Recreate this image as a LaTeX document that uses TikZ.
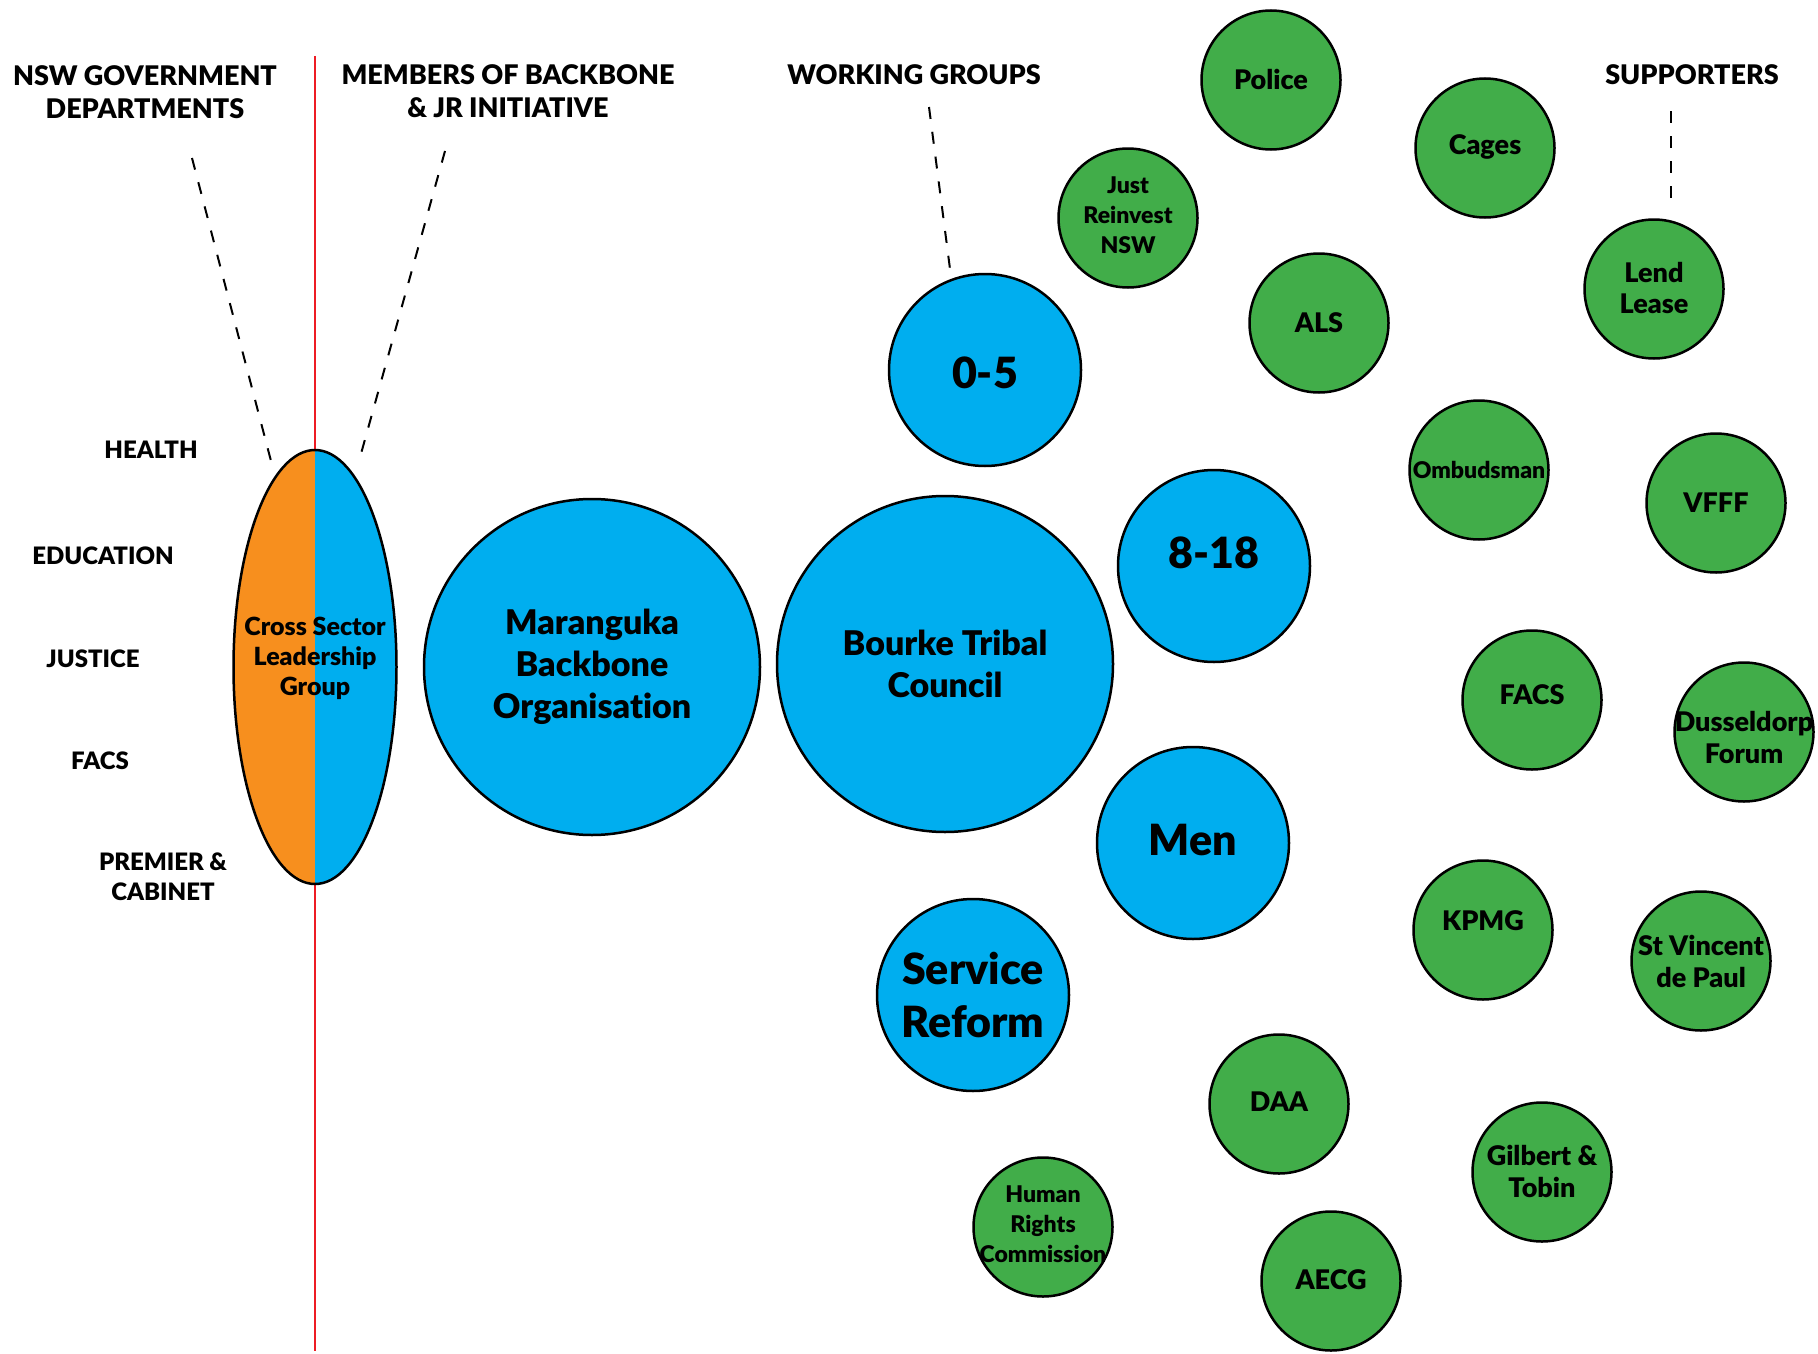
\documentclass[tikz,border=0pt]{standalone}
\usepackage{fontspec}
\setmainfont{Lato}[BoldFont={Lato Black}, Ligatures=NoCommon]
\usetikzlibrary{shapes.geometric}
\definecolor{mblue}{RGB}{0,174,239}
\definecolor{morange}{RGB}{247,143,30}
\definecolor{mgreen}{RGB}{65,173,73}
\definecolor{mred}{RGB}{237,28,36}
\tikzset{
  wg/.style={circle, draw, line width=2.5pt, fill=mblue, minimum size=192pt, inner sep=0pt},
  big/.style={wg, minimum size=336pt},
  sup/.style={circle, draw, line width=2.5pt, fill=mgreen, minimum size=139pt, inner sep=0pt},
  hdr/.style={font=\fontsize{27}{33}\selectfont\bfseries, align=center},
  dept/.style={font=\fontsize{24}{30}\selectfont\bfseries, align=center},
  bt/.style={font=\fontsize{34}{42}\selectfont\bfseries, align=center},
  wt/.style={font=\fontsize{43}{53}\selectfont\bfseries, align=center},
  st/.style={font=\fontsize{27}{32}\selectfont\bfseries, align=center},
  sts/.style={font=\fontsize{23}{30}\selectfont\bfseries, align=center},
  cst/.style={font=\fontsize{25}{30}\selectfont\bfseries, align=center},
  lead/.style={dash pattern=on 12pt off 13pt, line width=2pt},
}
\begin{document}
\begin{tikzpicture}[x=1pt,y=-1pt]
\useasboundingbox[fill=white] (0,0) rectangle (1818,1354);
% red divider
\coordinate (ltop) at (315,56);
\coordinate (lbot) at (315,1351);
\draw[mred, line width=2pt] (ltop) -- (lbot);
% cross sector leadership group
\node[ellipse, draw, line width=2.5pt, minimum width=163pt, minimum height=434pt, inner sep=0pt,
  path picture={
    \fill[morange] (path picture bounding box.south west) rectangle (path picture bounding box.north);
    \fill[mblue] (path picture bounding box.south) rectangle (path picture bounding box.north east);},
  label={[cst, yshift=9pt]center:Cross Sector\\Leadership\\Group}] (csl) at (315,667) {};

% headings
\node[hdr] (nsw) at (145,92) {NSW GOVERNMENT\\DEPARTMENTS};
\node[hdr] (memb) at (508,91) {MEMBERS OF BACKBONE\\\& JR INITIATIVE};
\node[hdr] (wgs) at (914,75) {WORKING GROUPS};
\node[hdr] (sups) at (1692,75) {SUPPORTERS};

% dashed leaders
\coordinate (nswa) at (192,158);
\coordinate (nswb) at (271,461);
\coordinate (memba) at (445,151);
\coordinate (membb) at (359,461);
\coordinate (wgsa) at (929,107);
\coordinate (wgsb) at (950,269);
\coordinate (supsa) at (1671,111);
\coordinate (supsb) at (1671,206);
\draw[lead] (nswa) -- (nswb);
\draw[lead] (memba) -- (membb);
\draw[lead] (wgsa) -- (wgsb);
\draw[lead] (supsa) -- (supsb);

% departments
\node[dept] (health) at (151,450) {HEALTH};
\node[dept] (educ) at (103,556) {EDUCATION};
\node[dept] (just) at (93,659) {JUSTICE};
\node[dept] (facsd) at (100,761) {FACS};
\node[dept] (prem) at (163,877) {PREMIER \&\\CABINET};

% backbone and working groups
\node[big, label={[bt]center:Maranguka\\Backbone\\Organisation}] (mbo) at (592,667) {};
\node[big, label={[bt]center:Bourke Tribal\\Council}] (btc) at (945,664) {};
\node[wg, label={[wt, yshift=-3pt]center:0-5}] (g05) at (985,370) {};
\node[wg, label={[wt, yshift=13pt]center:8-18}] (g818) at (1214,566) {};
\node[wg, label={[wt, yshift=3pt]center:Men}] (gmen) at (1193,843) {};
\node[wg, label={[wt]center:Service\\Reform}] (gsr) at (973,995) {};

% supporters
\foreach \nm/\px/\py/\dy/\txt in {police/1271/80/1/Police, cages/1485/148/1/Cages,
    als/1319/323/0/ALS, lend/1654/289/1/{Lend\\Lease}, vfff/1716/503/0/VFFF,
    facs/1532/700/5/FACS, duss/1744/732/-5/{Dusseldorp\\Forum}, kpmg/1483/930/9/KPMG,
    stv/1701/961/0/{St Vincent\\de Paul}, daa/1279/1104/2/DAA,
    gil/1542/1172/1/{Gilbert \&\\Tobin}, aecg/1331/1281/1/AECG}
  \node[sup, label={[st, yshift=\dy pt]center:\txt}] (\nm) at (\px,\py) {};
\node[sup, label={[sts, yshift=3pt]center:Just\\Reinvest\\NSW}] (jr) at (1128,218) {};
\node[sup, label={[sts]center:Ombudsman}] (omb) at (1479,470) {};
\node[sup, label={[sts, yshift=3pt]center:Human\\Rights\\Commission}] (hrc) at (1043,1227) {};
\end{tikzpicture}
\end{document}
